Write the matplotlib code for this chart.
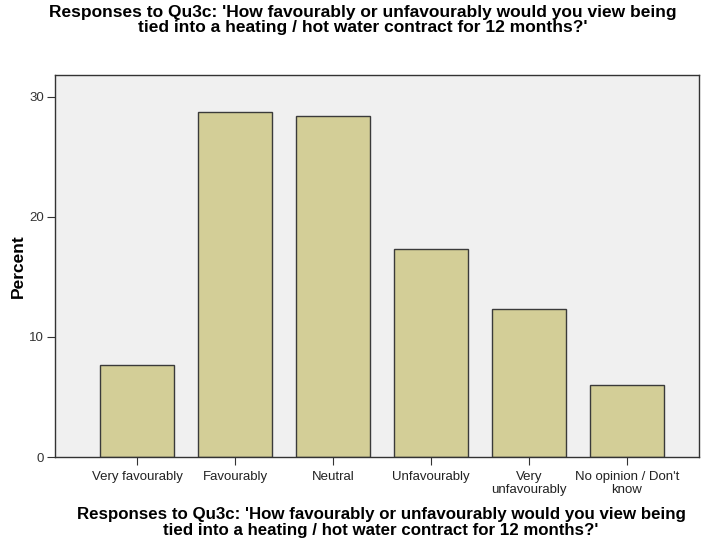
import matplotlib
matplotlib.use("Agg")
import matplotlib.pyplot as plt

categories = ["Very favourably", "Favourably", "Neutral", "Unfavourably",
              "Very\nunfavourably", "No opinion / Don't\nknow"]
percent = [7.7, 28.7, 28.4, 17.3, 12.3, 6.0]
yticks = [0, 10, 20, 30]
title = ("Responses to Qu3c: 'How favourably or unfavourably would you view being\n"
         "tied into a heating / hot water contract for 12 months?'")

plt.rcParams['font.family'] = ['Liberation Sans', 'DejaVu Sans']

fig = plt.figure(figsize=(7.01, 5.39), dpi=100)
W, H = 701, 539
left, right, top, bottom = 55, 699, 75, 457
ax = fig.add_axes([left / W, 1 - bottom / H, (right - left) / W, (bottom - top) / H])
ax.set_facecolor('#F0F0F0')

x = list(range(len(categories)))
ax.bar(x, percent, width=0.755, color='#D3CE97', edgecolor='#3a3a3a', linewidth=1.0, zorder=2)

ax.set_xlim(-0.837, 5.735)
ax.set_ylim(0, 31.8)
ax.set_yticks(yticks)
ax.set_yticklabels([str(t) for t in yticks], fontsize=9.5, color='#333333')
ax.set_xticks(x)
ax.set_xticklabels(categories, fontsize=9.5, color='#222222', linespacing=1.1)
ax.tick_params(axis='both', direction='out', length=6, width=0.8, color='#333333', pad=2)
ax.tick_params(axis='x', pad=4)
for s in ax.spines.values():
    s.set_color('#333333')
    s.set_linewidth(1.0)

ax.set_ylabel('Percent', fontsize=12.5, fontweight='bold', labelpad=2)
fig.text(363 / W, 1 - 20 / H, title, ha='center', va='center', fontsize=12.5,
         fontweight='bold', linespacing=1.08)
fig.text(381 / W, 1 - 522.5 / H, title, ha='center', va='center', fontsize=12.2,
         fontweight='bold', linespacing=1.05)

fig.savefig('out.png', dpi=100)
